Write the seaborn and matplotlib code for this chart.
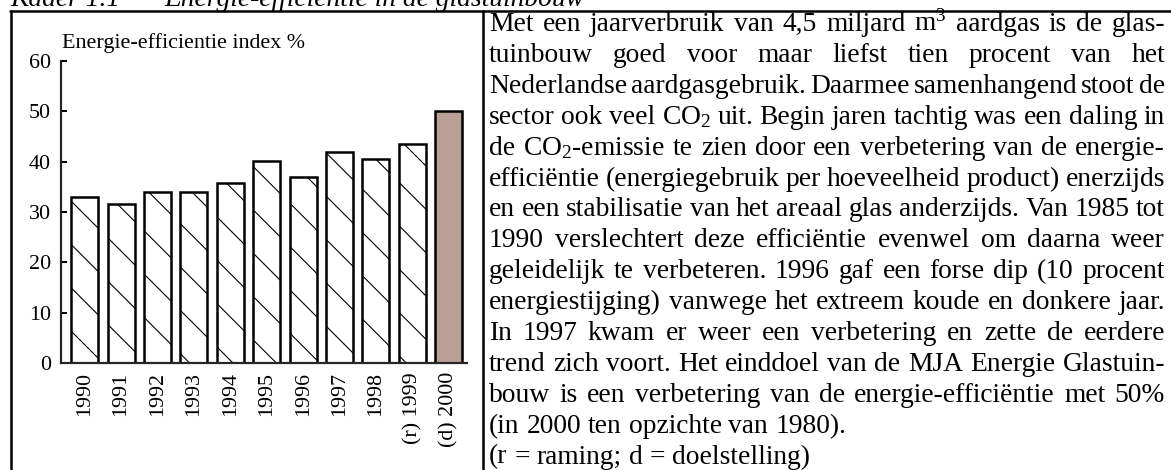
import matplotlib
matplotlib.use("Agg")
import numpy as np
import pandas as pd
import matplotlib.pyplot as plt
import seaborn as sns
from matplotlib.lines import Line2D

#DATA
jaren = ['1990', '1991', '1992', '1993', '1994', '1995', '1996', '1997', '1998',
         '(r) 1999', '(d) 2000']
index = [33.0, 31.6, 33.9, 33.9, 35.7, 40.1, 37.0, 41.9, 40.5, 43.5, 50.0]
kleuren = ['white'] * 10 + ['#b8a096']
yticks = [0, 10, 20, 30, 40, 50, 60]

titel_nr = 'Kader 1.1'
titel = 'Energie-efficiëntie in de glastuinbouw'
ylabel = 'Energie-efficientie index %'

#Body text, line by line as in the reference (last two lines not justified)
tekst = [
    'Met een jaarverbruik van 4,5 miljard m$^3$ aardgas is de glas-',
    'tuinbouw goed voor maar liefst tien procent van het',
    'Nederlandse aardgasgebruik. Daarmee samenhangend stoot de',
    'sector ook veel CO$_2$ uit. Begin jaren tachtig was een daling in',
    'de CO$_2$-emissie te zien door een verbetering van de energie-',
    'efficiëntie (energiegebruik per hoeveelheid product) enerzijds',
    'en een stabilisatie van het areaal glas anderzijds. Van 1985 tot',
    '1990 verslechtert deze efficiëntie evenwel om daarna weer',
    'geleidelijk te verbeteren. 1996 gaf een forse dip (10 procent',
    'energiestijging) vanwege het extreem koude en donkere jaar.',
    'In 1997 kwam er weer een verbetering en zette de eerdere',
    'trend zich voort. Het einddoel van de MJA Energie Glastuin-',
    'bouw is een verbetering van de energie-efficiëntie met 50%',
    '(in 2000 ten opzichte van 1980).',
    '(r = raming; d = doelstelling)',
]
n_justified = 13

W, H, DPI = 1171, 470, 130

def pt(px):
    return px * 72 / DPI

sns.set_style('ticks')
plt.rcParams['font.family'] = ['Liberation Serif', 'DejaVu Serif']
plt.rcParams['mathtext.fontset'] = 'custom'
plt.rcParams['mathtext.rm'] = 'Liberation Serif'
plt.rcParams['mathtext.it'] = 'Liberation Serif:italic'
plt.rcParams['hatch.linewidth'] = pt(1.1)
plt.rcParams['text.color'] = 'black'
plt.rcParams['xtick.color'] = 'black'
plt.rcParams['ytick.color'] = 'black'

fig = plt.figure(figsize=(W / DPI, H / DPI), dpi=DPI)

def fx(px):
    return px / W

def fy(py):
    return 1 - py / H

#BAR CHART
ax = fig.add_axes([fx(61), fy(363), 406 / W, 302 / H])
df = pd.DataFrame({'jaar': jaren, 'index': index})
sns.barplot(data=df, x='jaar', y='index', hue='jaar', palette=kleuren, legend=False,
            width=0.74, edgecolor='black', linewidth=pt(2.5), saturation=1, ax=ax)
bars = sorted(ax.patches, key=lambda p: p.get_x())
for p in bars[:10]:
    p.set_hatch('\\')

ax.set_xlim(-0.65, 10.5)
ax.set_ylim(0, 60)
ax.set_yticks(yticks)
ax.set_xlabel('')
ax.set_ylabel('')
sns.despine(ax=ax)
for s in ['left', 'bottom']:
    ax.spines[s].set_linewidth(pt(2.2))
ax.tick_params(axis='y', direction='in', length=pt(6), width=pt(2), pad=pt(10),
               labelsize=pt(22))
ax.tick_params(axis='x', length=0, pad=pt(9), labelsize=pt(22), labelrotation=90)

fig.text(fx(62), fy(48), ylabel, fontsize=pt(22), ha='left', va='baseline')

#FRAME AND TITLE
lw_box = pt(2.5)
fig.add_artist(Line2D([fx(10), 1], [fy(11), fy(11)], color='black', lw=lw_box,
                      transform=fig.transFigure))
fig.add_artist(Line2D([fx(11), fx(11)], [fy(11), 0], color='black', lw=lw_box,
                      transform=fig.transFigure))
fig.add_artist(Line2D([fx(483), fx(483)], [fy(11), 0], color='black', lw=lw_box,
                      transform=fig.transFigure))

fig.text(fx(10), fy(6), titel_nr, fontsize=pt(27.5), style='italic', va='baseline')
fig.text(fx(164), fy(6), titel, fontsize=pt(27.5), style='italic', va='baseline')

#JUSTIFIED TEXT COLUMN
renderer = fig.canvas.get_renderer()
left, right = 489, 1165
size = pt(27.5)
for i, regel in enumerate(tekst):
    y = 31 + 30.9 * i
    woorden = regel.split(' ')
    items = [fig.text(0, fy(y), w, fontsize=size, ha='left', va='baseline') for w in woorden]
    breedtes = [t.get_window_extent(renderer).width for t in items]
    if i < n_justified and len(items) > 1:
        gap = (right - left - sum(breedtes)) / (len(items) - 1)
    else:
        gap = 0.25 * 27.5
    x = left
    for t, b in zip(items, breedtes):
        t.set_x(fx(x))
        x += b + gap

fig.savefig('out.png', dpi=DPI)
